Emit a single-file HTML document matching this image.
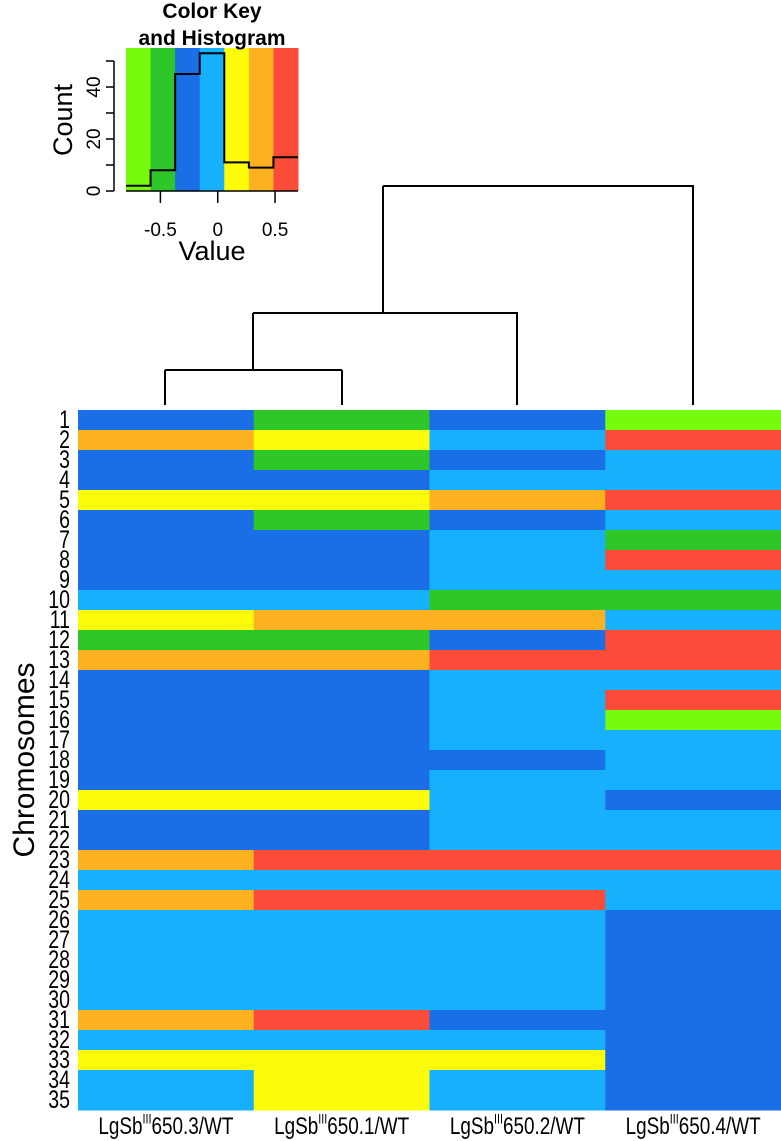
<!DOCTYPE html>
<html><head><meta charset="utf-8"><style>
body{margin:0;background:#fff}
svg{display:block;font-family:"Liberation Sans",sans-serif}
</style></head><body>
<svg id="chart" width="781" height="1141" viewBox="0 0 781 1141" xmlns="http://www.w3.org/2000/svg">
<g id="key"></g>
<g id="dendro" stroke="#000" stroke-width="2" fill="none">
<path d="M383 186 H693 V405 M383 186 V313 M253 313 H517 V405 M253 313 V370 M165 370 H342 M165 370 V405 M342 370 V405"/>
</g>
<g id="heat"></g>
<g id="labels"></g>
</svg>
<script>
const palette=["#76fb0e","#2fc62a","#1b6fe6","#17b0fc","#fbfb0a","#fbb120","#fb4c3a"];
const columns=["650.3","650.1","650.2","650.4"];
const rowLabels=["1","2","3","4","5","6","7","8","9","10","11","12","13","14","15","16","17","18","19","20","21","22","23","24","25","26","27","28","29","30","31","32","33","34","35"];
const cells=[
"2120","5436","2123","2233","4456","2123","2231","2236","2233","3311",
"4553","1126","5566","2233","2236","2230","2233","2223","2233","4432",
"2233","2233","5666","3333","5663","3332","3332","3332","3332","3332",
"5622","3332","4442","3432","3432"];
const histCounts=[2,8,45,53,11,9,13];
const xTicks=[-0.5,0,0.5];
const yTicks=[0,20,40];
const NS="http://www.w3.org/2000/svg";
function mk(t,a,p){const e=document.createElementNS(NS,t);for(const k in a)e.setAttribute(k,a[k]);p.appendChild(e);return e;}
const hx0=78,hx1=781,hy0=410,hy1=1110;
const cw=(hx1-hx0)/columns.length, rh=(hy1-hy0)/rowLabels.length;
const heat=document.getElementById('heat'),labels=document.getElementById('labels');
cells.forEach((r,i)=>{
 for(let j=0;j<columns.length;j++){
  const c=mk('rect',{x:hx0+j*cw,y:hy0+i*rh,width:cw+0.5,height:rh+0.5,fill:palette[+r[j]]},heat);
  
  
 }
 const t=mk('text',{transform:`translate(70,${hy0+i*rh+rh/2+8}) scale(0.85,1.1)`,'text-anchor':'end','font-size':23},labels);
 t.textContent=rowLabels[i];
 
 
});
columns.forEach((c,j)=>{
 const t=mk('text',{transform:`translate(${hx0+j*cw+cw/2},1134) scale(0.9,1.15)`,'text-anchor':'middle','font-size':21},labels);
 t.innerHTML='LgSb<tspan font-size="12" dy="-9">III</tspan><tspan dy="9">'+c+'/WT</tspan>';
 
 
});
const yt=mk('text',{transform:'translate(34,760) rotate(-90)','text-anchor':'middle','font-size':30},labels);
yt.textContent='Chromosomes';


const key=document.getElementById('key');
const kx0=126,kx1=298,ky0=48,ky1=191,vmin=-0.8,vmax=0.7;
const xs=v=>kx0+(v-vmin)/(vmax-vmin)*(kx1-kx0);
const ys=c=>ky1-c*2.6;
const bw=(kx1-kx0)/palette.length;
palette.forEach((col,i)=>{const r=mk('rect',{x:kx0+i*bw,y:ky0,width:bw+0.5,height:ky1-ky0,fill:col},key);
 });
let d='M'+kx0+' '+ys(histCounts[0]);
histCounts.forEach((c,i)=>{d+=' H'+(kx0+(i+1)*bw);if(i<histCounts.length-1)d+=' V'+ys(histCounts[i+1]);});
const h=mk('path',{d:d,stroke:'#000','stroke-width':2,fill:'none'},key);

mk('line',{x1:kx0-12,x2:kx0-12,y1:ys(0),y2:ys(50),stroke:'#000','stroke-width':1.5},key);
[0,10,20,30,40,50].forEach(v=>mk('line',{x1:kx0-20,x2:kx0-12,y1:ys(v),y2:ys(v),stroke:'#000','stroke-width':1.5},key));
yTicks.forEach(v=>{const t=mk('text',{transform:`translate(${kx0-26},${ys(v)}) rotate(-90)`,'text-anchor':'middle','font-size':19},key);t.textContent=v;
 });
mk('line',{x1:kx0,x2:kx1,y1:ky1,y2:ky1,stroke:'#000','stroke-width':1.5},key);
xTicks.forEach(v=>{mk('line',{x1:xs(v),x2:xs(v),y1:ky1,y2:ky1+12,stroke:'#000','stroke-width':1.5},key);
 const t=mk('text',{x:xs(v),y:236,'text-anchor':'middle','font-size':19},key);t.textContent=v;
 });
[['Color Key',212,18],['and Histogram',212,45]].forEach(([s,x,y])=>{const t=mk('text',{x:x,y:y,'text-anchor':'middle','font-size':21,'font-weight':'bold'},key);t.textContent=s;
 });
const vl=mk('text',{x:212,y:260,'text-anchor':'middle','font-size':27},key);vl.textContent='Value';

const cl=mk('text',{transform:'translate(72,120) rotate(-90)','text-anchor':'middle','font-size':27},key);cl.textContent='Count';

</script>
</body></html>
